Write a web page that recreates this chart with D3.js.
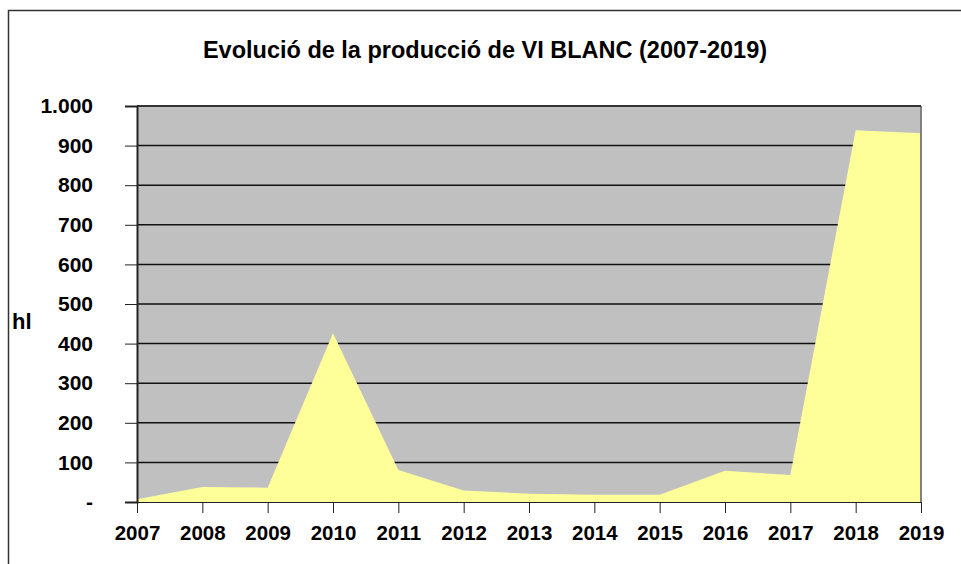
<!DOCTYPE html>
<html>
<head>
<meta charset="utf-8">
<script src="https://cdn.jsdelivr.net/npm/d3@7"></script>
<style>
  body { margin: 0; background: #fff; }
  svg text { font-family: "Liberation Sans", Arial, sans-serif; font-weight: bold; fill: #000; }
</style>
</head>
<body>
<svg id="chart" width="961" height="564"></svg>
<script>
var years = [2007, 2008, 2009, 2010, 2011, 2012, 2013, 2014, 2015, 2016, 2017, 2018, 2019];
var produccio = [7, 38, 36, 426, 81, 29, 21, 18, 18, 79, 68, 939, 931];
var yTicks = [0, 100, 200, 300, 400, 500, 600, 700, 800, 900, 1000];

var svg = d3.select("#chart"),
    margin = {top: 106, right: 40, bottom: 62, left: 137},
    width = 961 - margin.left - margin.right,
    height = 564 - margin.top - margin.bottom;

// frame of the chart (runs off the right and bottom of the picture)
svg.append("rect")
    .attr("x", 8.5).attr("y", 10.5)
    .attr("width", 970).attr("height", 570)
    .style("fill", "none").style("stroke", "#333").style("stroke-width", 1.5);

svg.append("text")
    .attr("x", 485).attr("y", 58)
    .attr("text-anchor", "middle")
    .style("font-size", "23.5px")
    .text("Evolució de la producció de VI BLANC (2007-2019)");

var g = svg.append("g").attr("transform", "translate(" + margin.left + "," + margin.top + ")");

var x = d3.scaleLinear().domain([2007, 2019]).range([0, width]);
var y = d3.scaleLinear().domain([0, 1000]).range([height, 0]);

var loc = d3.formatLocale({decimal: ",", thousands: ".", grouping: [3], currency: ["", "€"]});
var fmt = loc.format(",d");

g.append("rect")
    .attr("width", width).attr("height", height)
    .style("fill", "#c0c0c0");

// gridlines
g.selectAll(".grid")
    .data(yTicks)
    .enter().append("line")
      .attr("class", "grid")
      .attr("x1", 0).attr("x2", width)
      .attr("y1", function(d) { return y(d); })
      .attr("y2", function(d) { return y(d); })
      .style("stroke", "#111").style("stroke-width", 1.5);

var area = d3.area()
    .x(function(d, i) { return x(years[i]); })
    .y0(height)
    .y1(function(d) { return y(d); });

g.append("path")
    .datum(produccio)
    .attr("d", area)
    .style("fill", "#ffff99");

// plot border
g.append("line")
    .attr("x1", width).attr("x2", width).attr("y1", 0).attr("y2", height)
    .style("stroke", "#808080").style("stroke-width", 2);
g.append("line")
    .attr("x1", 0).attr("x2", width).attr("y1", 0).attr("y2", 0)
    .style("stroke", "#333").style("stroke-width", 2);

var yAxis = d3.axisLeft(y)
    .tickValues(yTicks)
    .tickSize(12)
    .tickPadding(32)
    .tickFormat(function(d) { return d === 0 ? "-" : fmt(d); });

var xAxis = d3.axisBottom(x)
    .tickValues(years)
    .tickSize(11)
    .tickPadding(12)
    .tickFormat(d3.format("d"));

var ya = g.append("g").call(yAxis);
var xa = g.append("g").attr("transform", "translate(0," + height + ")").call(xAxis);

ya.selectAll("text").style("font-size", "21px");
xa.selectAll("text").style("font-size", "20.5px");
ya.select(".domain").style("stroke", "#222").style("stroke-width", 2);
xa.select(".domain").style("stroke", "#222").style("stroke-width", 1);
ya.selectAll(".tick line").style("stroke", "#222");
xa.selectAll(".tick line").style("stroke", "#222");

svg.append("text")
    .attr("x", 12).attr("y", 329)
    .style("font-size", "22px")
    .text("hl");
</script>
</body>
</html>
